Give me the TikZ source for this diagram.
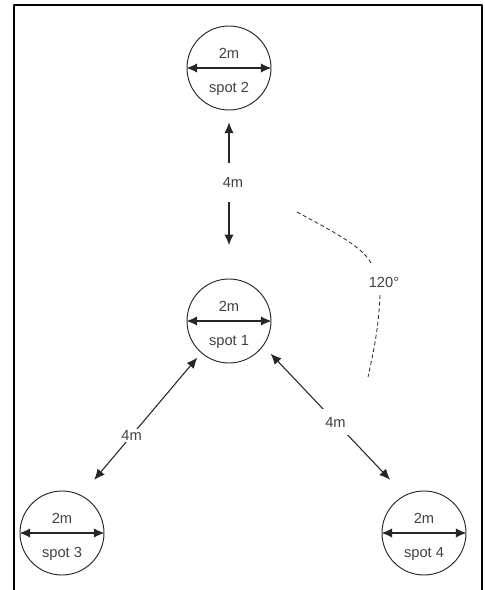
\documentclass[tikz,border=0pt]{standalone}
\usepackage{fontspec}
\setmainfont{Liberation Sans}
\usetikzlibrary{positioning,arrows.meta}

\begin{document}
\begin{tikzpicture}[x=0.75pt,y=-0.75pt,on grid,line join=round,
  spot node/.style={circle,draw=black!85,line width=0.7pt,minimum size=63pt,inner sep=0pt},
  dim/.style={{Latex[length=8pt,width=7pt]}-{Latex[length=8pt,width=7pt]},line width=0.8pt,draw=black!85},
  txt/.style={font=\fontsize{11}{13}\selectfont,text=black!75,inner sep=1pt},
  gap/.style={txt,fill=white}]

  \useasboundingbox (0,0) rectangle (485,590);
  \draw[line width=1.1pt] (14,590) -- (14,5) -- (482,5) -- (482,590);

  \node[spot node] (1) at (229,321) {};
  \node[spot node] (2) [above=189.75pt of 1] {};
  \node[spot node] (3) [below left=159pt and 125.25pt of 1] {};
  \node[spot node] (4) [below right=159pt and 146.25pt of 1] {};

  % diameter and labels inside every spot
  \foreach \n in {1,...,4} {
    \draw[dim] (\n.west) -- (\n.east);
    \node[txt] (d\n) at ([yshift=11pt]\n.center) {2m};
    \node[txt] (s\n) at ([yshift=-15.5pt]\n.center) {spot \n};
  }

  % distances between spots
  \draw[dim,shorten <=9pt,shorten >=25pt] (2) -- (1)
    node[gap,pos=0.43,inner ysep=11pt,xshift=3pt] (l12) {4m};
  \draw[dim,shorten <=4.5pt,shorten >=15pt] (1.-131.6) -- (3.63)
    node[gap,pos=0.58,inner sep=1pt] (l13) {4m};
  \draw[dim,shorten <=8pt,shorten >=16pt] (1.-36) -- (4.117)
    node[gap,pos=0.51,inner sep=6pt] (l14) {4m};

  % angle mark
  \node[txt] (ang) at (384,282) {120°};
  \draw[dashed,dash pattern=on 3pt off 2pt,line width=0.6pt,black!85]
    (297,212) .. controls (330,230) and (362,246) .. (371,263);
  \draw[dashed,dash pattern=on 3pt off 2pt,line width=0.6pt,black!85]
    (380,295) .. controls (379,325) and (374,350) .. (368,377);
\end{tikzpicture}
\end{document}
